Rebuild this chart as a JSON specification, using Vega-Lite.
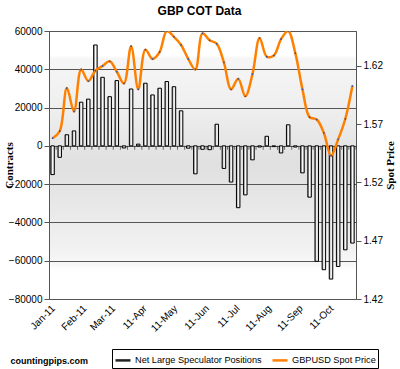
{
  "$schema": "https://vega.github.io/schema/vega-lite/v6.json",
  "width": 307,
  "height": 268,
  "autosize": "none",
  "padding": {"left": 49, "top": 31, "right": 44, "bottom": 70},
  "background": "white",
  "title": {"text": "GBP COT Data", "font": "Liberation Sans", "fontSize": 12, "fontWeight": "bold", "color": "black", "offset": 8, "dx": -3},
  "config": {
    "view": {
      "stroke": "#555555",
      "strokeWidth": 1,
      "fill": {
        "gradient": "linear", "x1": 0, "y1": 0, "x2": 0, "y2": 1,
        "stops": [
          {"offset": 0, "color": "#ffffff"},
          {"offset": 0.09, "color": "#ffffff"},
          {"offset": 0.1, "color": "#f6f6f6"},
          {"offset": 0.3, "color": "#eeeeee"},
          {"offset": 0.42, "color": "#e5e5e5"},
          {"offset": 0.5, "color": "#e0e0e0"},
          {"offset": 0.56, "color": "#e3e3e3"},
          {"offset": 0.7, "color": "#ebebeb"},
          {"offset": 0.82, "color": "#f2f2f2"},
          {"offset": 0.87, "color": "#f8f8f8"},
          {"offset": 0.89, "color": "#ffffff"},
          {"offset": 1, "color": "#ffffff"}
        ]
      }
    },
    "axis": {
      "labelFont": "Liberation Sans", "labelFontSize": 10, "labelColor": "black",
      "titleFont": "Liberation Serif", "titleFontSize": 11, "titleFontWeight": "bold", "titleColor": "black",
      "tickColor": "#555555", "domain": false, "labelOverlap": false
    }
  },
  "data": {
    "values": [
      {"date": "2011-01-04", "contracts": -15000, "price": 1.558},
      {"date": "2011-01-11", "contracts": -6000, "price": 1.564},
      {"date": "2011-01-18", "contracts": 5800, "price": 1.601},
      {"date": "2011-01-25", "contracts": 7800, "price": 1.581},
      {"date": "2011-02-01", "contracts": 22800, "price": 1.617},
      {"date": "2011-02-08", "contracts": 24400, "price": 1.607},
      {"date": "2011-02-15", "contracts": 52700, "price": 1.616},
      {"date": "2011-02-22", "contracts": 35800, "price": 1.620},
      {"date": "2011-03-01", "contracts": 25700, "price": 1.624},
      {"date": "2011-03-08", "contracts": 34100, "price": 1.615},
      {"date": "2011-03-15", "contracts": -1100, "price": 1.605},
      {"date": "2011-03-22", "contracts": 29700, "price": 1.637},
      {"date": "2011-03-29", "contracts": 900, "price": 1.600},
      {"date": "2011-04-05", "contracts": 32700, "price": 1.634},
      {"date": "2011-04-12", "contracts": 26600, "price": 1.626},
      {"date": "2011-04-19", "contracts": 30100, "price": 1.632},
      {"date": "2011-04-26", "contracts": 33600, "price": 1.650},
      {"date": "2011-05-03", "contracts": 30900, "price": 1.645},
      {"date": "2011-05-10", "contracts": 18300, "price": 1.638},
      {"date": "2011-05-17", "contracts": -1200, "price": 1.626},
      {"date": "2011-05-24", "contracts": -14600, "price": 1.617},
      {"date": "2011-05-31", "contracts": -1800, "price": 1.648},
      {"date": "2011-06-07", "contracts": -2000, "price": 1.642},
      {"date": "2011-06-14", "contracts": 11300, "price": 1.639},
      {"date": "2011-06-21", "contracts": -11800, "price": 1.623},
      {"date": "2011-06-28", "contracts": -18900, "price": 1.600},
      {"date": "2011-07-05", "contracts": -32300, "price": 1.609},
      {"date": "2011-07-12", "contracts": -25600, "price": 1.594},
      {"date": "2011-07-19", "contracts": -7300, "price": 1.613},
      {"date": "2011-07-26", "contracts": -600, "price": 1.644},
      {"date": "2011-08-02", "contracts": 5000, "price": 1.628},
      {"date": "2011-08-09", "contracts": -400, "price": 1.629},
      {"date": "2011-08-16", "contracts": -3700, "price": 1.643},
      {"date": "2011-08-23", "contracts": 11000, "price": 1.650},
      {"date": "2011-08-30", "contracts": -600, "price": 1.631},
      {"date": "2011-09-06", "contracts": -14100, "price": 1.600},
      {"date": "2011-09-13", "contracts": -26800, "price": 1.576},
      {"date": "2011-09-20", "contracts": -60300, "price": 1.574},
      {"date": "2011-09-27", "contracts": -64700, "price": 1.5625},
      {"date": "2011-10-04", "contracts": -69600, "price": 1.543},
      {"date": "2011-10-11", "contracts": -63000, "price": 1.557},
      {"date": "2011-10-18", "contracts": -54300, "price": 1.5745},
      {"date": "2011-10-25", "contracts": -50800, "price": 1.603}
    ]
  },
  "layer": [
    {
      "layer": [
        {
          "mark": {
            "type": "bar", "size": 3.5, "stroke": "black", "strokeWidth": 1,
            "fill": {"gradient": "linear", "x1": 0, "y1": 0, "x2": 1, "y2": 0,
              "stops": [{"offset": 0, "color": "#707070"}, {"offset": 0.5, "color": "#ffffff"}, {"offset": 1, "color": "#c8c8c8"}]}
          },
          "encoding": {
            "x": {
              "field": "date", "type": "temporal",
              "scale": {"type": "utc", "nice": false, "padding": 0, "domain": [{"year": 2010, "month": 12, "date": 31, "hours": 12, "utc": true}, {"year": 2011, "month": 10, "date": 28, "hours": 12, "utc": true}]},
              "axis": {
                "title": "countingpips.com", "titleFont": "Liberation Sans", "titleFontSize": 9, "titleFontWeight": "bold",
                "titleAnchor": "start", "titleAlign": "left", "titleX": -39, "titleY": 61, "titleBaseline": "middle", "titleAngle": 0,
                "tickCount": {"interval": "month", "step": 1},
                "labelExpr": "utcmonth(datum.value) < 3 ? utcFormat(datum.value, '%b-%y') : utcFormat(datum.value, '%y-%b')",
                "labelAngle": -45, "labelPadding": 4, "labelOverlap": false, "labelBound": false, "labelFlush": false,
                "ticks": false, "grid": false
              }
            },
            "y": {
              "field": "contracts", "type": "quantitative",
              "scale": {"domain": [-80000, 60000], "nice": false, "zero": false},
              "axis": {
                "title": "Contracts", "values": [-80000, -60000, -40000, -20000, 0, 20000, 40000, 60000], "format": "d",
                "grid": true, "gridColor": "#555555", "gridWidth": 1, "tickSize": 5, "labelPadding": 2, "titlePadding": -6, "labelOverlap": false
              }
            }
          }
        },
        {
          "mark": {"type": "tick", "orient": "vertical", "size": 4, "thickness": 1, "color": "#333333", "xOffset": 3.57, "yOffset": 2},
          "encoding": {
            "x": {"field": "date", "type": "temporal", "scale": {"type": "utc", "nice": false, "padding": 0}},
            "y": {
              "datum": 0, "type": "quantitative",
              "axis": {
                "title": "Contracts", "values": [-80000, -60000, -40000, -20000, 0, 20000, 40000, 60000], "format": "d",
                "grid": true, "gridColor": "#555555", "gridWidth": 1, "tickSize": 5, "labelPadding": 2, "titlePadding": -6, "labelOverlap": false
              }
            }
          }
        }
      ]
    },
    {
      "layer": [
        {
          "mark": {"type": "line", "interpolate": "catmull-rom", "strokeWidth": 2.5, "clip": true},
          "encoding": {
            "x": {"field": "date", "type": "temporal", "scale": {"type": "utc", "nice": false, "padding": 0}},
            "y": {
              "field": "price", "type": "quantitative",
              "scale": {"domain": [1.42, 1.65], "nice": false, "zero": false},
              "axis": {
                "orient": "right", "title": "Spot Price", "titleAngle": 270, "values": [1.42, 1.47, 1.52, 1.57, 1.62], "format": ".2f",
                "grid": false, "tickSize": 5, "labelPadding": 2, "titlePadding": 13, "labelOverlap": false
              }
            },
            "color": {
              "datum": "GBPUSD Spot Price",
              "scale": {"domain": ["Net Large Speculator Positions", "GBPUSD Spot Price"], "range": ["#222222", "#ff8000"]},
              "legend": {
                "orient": "none", "legendX": 63, "legendY": 318, "direction": "horizontal", "title": null,
                "strokeColor": "black", "fillColor": "white", "padding": 2, "cornerRadius": 0,
                "labelFont": "Liberation Sans", "labelFontSize": 9.2, "labelColor": "black", "labelOffset": 3,
                "columnPadding": 5, "symbolSize": 225, "symbolType": "stroke", "symbolStrokeWidth": 2.5
              }
            }
          }
        },
        {
          "mark": {"type": "point", "filled": true, "size": 3, "color": "#31559c", "opacity": 1, "clip": true},
          "encoding": {
            "x": {"field": "date", "type": "temporal", "scale": {"type": "utc", "nice": false, "padding": 0}},
            "y": {"field": "price", "type": "quantitative"}
          }
        }
      ]
    }
  ],
  "resolve": {"scale": {"y": "independent"}}
}
